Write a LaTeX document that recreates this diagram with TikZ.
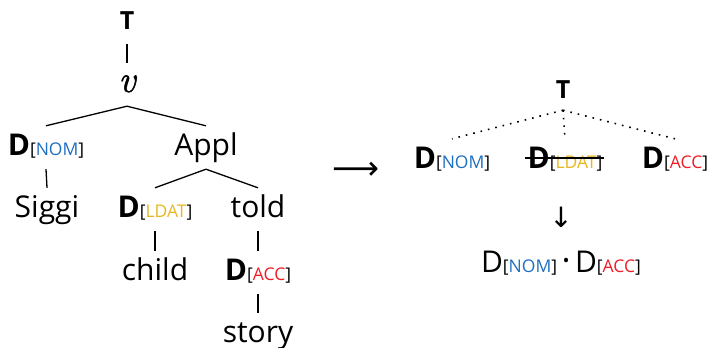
\documentclass[tikz,border=0pt]{standalone}
\usepackage{graphicx}
\usepackage{fontspec}
\setmainfont{Open Sans}
\newfontfamily\symfont{DejaVu Sans}
\newfontfamily\vfont{Latin Modern Roman}[FakeBold=1.2]
\usetikzlibrary{calc}
\definecolor{nomc}{HTML}{1F6FC0}
\definecolor{datc}{HTML}{E8B720}
\definecolor{accc}{HTML}{EE1D25}
\newcommand{\ftr}[2]{{\fontsize{17.5}{18}\selectfont[\textcolor{#1}{#2}]}}
\begin{document}
\begin{tikzpicture}[x=1pt,y=-1pt,
  tr/.style={anchor=base, inner xsep=0pt, inner ysep=2pt, text height=27pt, text depth=12pt, font=\fontsize{30}{32}\selectfont},
  topt/.style={tr, font=\fontsize{25}{26}\selectfont\bfseries},
  edge/.style={line width=1.3pt},
  dots/.style={line width=1.6pt, dash pattern=on 1.6pt off 6pt}]
\useasboundingbox (0,0) rectangle (710,348);
% left tree
\node[topt] (T) at (127,30) {T};
\node[tr, font=\vfont\itshape\fontsize{38}{40}\selectfont] (v) at (127,92) {v};
\node[tr] (dnom) at (46,155) {\textbf{D}\ftr{nomc}{NOM}};
\node[tr] (appl) at (206,155) {Appl};
\node[tr] (siggi) at (47,217) {Siggi};
\node[tr] (dldat) at (155,217) {\textbf{D}\ftr{datc}{LDAT}};
\node[tr] (told) at (258,217) {told};
\node[tr] (child) at (155,280) {child};
\node[tr] (dacc) at (258,280) {\textbf{D}\ftr{accc}{ACC}};
\node[tr] (story) at (258,342) {story};
\draw[edge] (T.south) -- (v.north);
\draw[edge] (v.south) -- (dnom.north);
\draw[edge] (v.south) -- (appl.north);
\draw[edge] (dnom.south) -- (siggi.north);
\draw[edge] (appl.south) -- (dldat.north);
\draw[edge] (appl.south) -- (told.north);
\draw[edge] (dldat.south) -- (child.north);
\draw[edge] (told.south) -- (dacc.north);
\draw[edge] (dacc.south) -- (story.north);
% arrow
\node[inner sep=0pt] (arr) at (356,171) {\resizebox{47pt}{!}{\symfont ⟶}};
% right tree
\node[topt, text depth=10pt] (rT) at (563,98) {T};
\node[tr] (rnom) at (452,168) {\textbf{D}\ftr{nomc}{NOM}};
\node[tr] (rldat) at (565,168) {\textbf{D}\ftr{datc}{LDAT}};
\node[tr] (racc) at (675,168) {\textbf{D}\ftr{accc}{ACC}};
\draw[dots] (rT.south) -- (rnom.north);
\draw[dots] (rT.south) -- (rldat.north);
\draw[dots] (rT.south) -- (racc.north);
\draw[line width=1.1pt] ($(rldat.base west)+(-2,-10)$) -- ($(rldat.base east)+(1,-10)$);
\node[inner sep=0pt, font=\symfont\fontsize{28}{30}\selectfont] (down) at (561,217) {↓};
\node[tr] (fin) at (561,272) {D\ftr{nomc}{NOM}\makebox[18pt]{\fontsize{34}{34}\selectfont ·}D\ftr{accc}{ACC}};
\end{tikzpicture}
\end{document}
